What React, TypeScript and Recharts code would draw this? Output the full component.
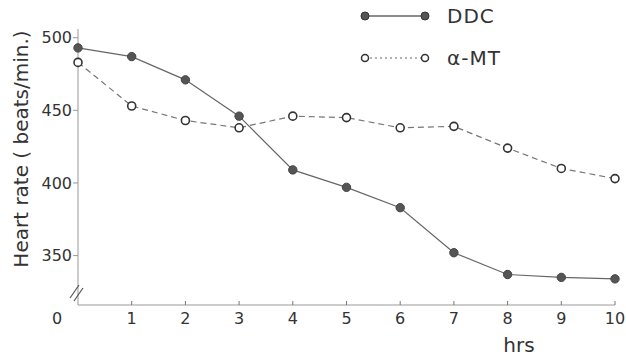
import { Legend, Line, LineChart, XAxis, YAxis } from "recharts";

// hours after dosing
const HOURS = [0, 1, 2, 3, 4, 5, 6, 7, 8, 9, 10];
// heart rate, beats/min
const DDC = [493, 487, 471, 446, 409, 397, 383, 352, 337, 335, 334];
const ALPHA_MT = [483, 453, 443, 438, 446, 445, 438, 439, 424, 410, 403];

const X_TICKS = [0, 1, 2, 3, 4, 5, 6, 7, 8, 9, 10];
const Y_TICKS = [350, 400, 450, 500];

const data = HOURS.map((hour, i) => ({ hour, ddc: DDC[i], amt: ALPHA_MT[i] }));

const INK = "#333";
const FONT = "'DejaVu Sans', sans-serif";

const SERIES = [
  { key: "ddc", name: "DDC", filled: true },
  { key: "amt", name: "α-MT", filled: false },
];

function HourTick(props: any) {
  const { x, y, payload } = props;
  const v = payload.value;
  const textProps = {
    y: y + 19,
    textAnchor: "middle" as const,
    fontSize: 16,
    fill: INK,
    fontFamily: FONT,
  };
  if (v === 0) {
    // axis break mark sits at the origin
    return (
      <g>
        <line x1={x - 8} y1={y - 7} x2={x + 1} y2={y - 20} stroke="#555" strokeWidth={1.2} />
        <line x1={x - 4} y1={y - 4} x2={x + 5} y2={y - 17} stroke="#555" strokeWidth={1.2} />
        <text x={x - 21} {...textProps}>0</text>
      </g>
    );
  }
  return (
    <g>
      <line x1={x} y1={y} x2={x} y2={y - 4} stroke="#777" strokeWidth={1} />
      <text x={x} {...textProps}>{v}</text>
    </g>
  );
}

function LegendBox({ payload }: any) {
  return (
    <div style={{ display: "flex", flexDirection: "column", gap: 10 }}>
      {(payload ?? []).map((entry: any) => {
        const s = SERIES.find((k) => k.key === entry.dataKey) ?? SERIES[0];
        return (
          <div key={s.key} style={{ display: "flex", alignItems: "center", height: 32 }}>
            <svg width={70} height={20}>
              <line
                x1={5}
                y1={10}
                x2={65}
                y2={10}
                stroke="#666"
                strokeWidth={s.filled ? 1.4 : 1.2}
                strokeDasharray={s.filled ? undefined : "2 3"}
              />
              {[5, 65].map((cx) => (
                <circle
                  key={cx}
                  cx={cx}
                  cy={10}
                  r={s.filled ? 4 : 3.5}
                  fill={s.filled ? "#555" : "#fff"}
                  stroke={INK}
                  strokeWidth={s.filled ? 1 : 1.5}
                />
              ))}
            </svg>
            <span style={{ marginLeft: 17, fontSize: 20, color: INK, letterSpacing: 1 }}>
              {entry.value}
            </span>
          </div>
        );
      })}
    </div>
  );
}

export default function App() {
  return (
    <div
      style={{
        position: "absolute",
        left: 0,
        top: 0,
        width: 626,
        height: 356,
        background: "#fff",
        fontFamily: FONT,
      }}
    >
      <LineChart
        width={626}
        height={356}
        data={data}
        margin={{ top: 29, right: 11, bottom: 0, left: 0 }}
      >
        <XAxis
          type="number"
          dataKey="hour"
          domain={[0, 10]}
          ticks={X_TICKS}
          interval={0}
          height={51}
          stroke="#999"
          tickLine={false}
          tickSize={0}
          tickMargin={0}
          tick={<HourTick />}
          label={{
            content: ({ viewBox }: any) => (
              <text
                x={viewBox.x + 441}
                y={viewBox.y + 47}
                textAnchor="middle"
                fontSize={20}
                fill={INK}
                fontFamily={FONT}
              >
                hrs
              </text>
            ),
          }}
        />
        <YAxis
          type="number"
          domain={[316, 506]}
          ticks={Y_TICKS}
          width={78}
          stroke="#999"
          tickSize={5}
          tickMargin={1}
          tick={{ fontSize: 16, fill: INK, fontFamily: FONT }}
          label={{
            content: ({ viewBox }: any) => {
              const x = viewBox.x + 28;
              const cy = viewBox.y + viewBox.height / 2 - 18;
              return (
                <text
                  x={x}
                  y={cy}
                  transform={`rotate(-90, ${x}, ${cy})`}
                  textAnchor="middle"
                  fontSize={20}
                  fill={INK}
                  fontFamily={FONT}
                >
                  Heart rate ( beats/min.)
                </text>
              );
            },
          }}
        />
        <Legend
          layout="vertical"
          align="center"
          verticalAlign="middle"
          content={<LegendBox />}
          wrapperStyle={{ left: 360, top: 0, width: 200 }}
        />
        <Line
          dataKey="ddc"
          name="DDC"
          stroke="#666"
          strokeWidth={1.2}
          dot={{ r: 4.2, fill: "#555", stroke: "#444", strokeWidth: 1 }}
          isAnimationActive={false}
        />
        <Line
          dataKey="amt"
          name="α-MT"
          stroke="#777"
          strokeWidth={1.2}
          strokeDasharray="6 4"
          dot={{ r: 4, fill: "#fff", stroke: INK, strokeWidth: 1.6, strokeDasharray: "0" }}
          isAnimationActive={false}
        />
      </LineChart>
    </div>
  );
}
